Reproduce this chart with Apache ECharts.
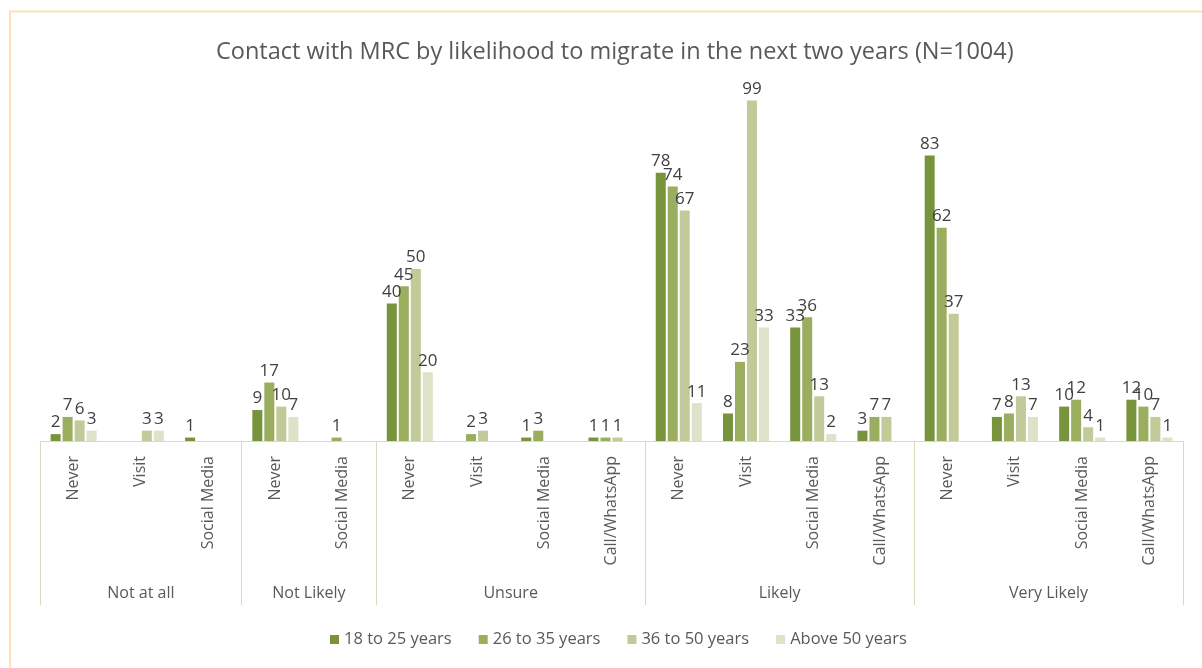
<!DOCTYPE html>
<html>
<head>
<meta charset="utf-8">
<script src="https://cdn.jsdelivr.net/npm/echarts@6/dist/echarts.min.js"></script>
<style>
html,body{margin:0;padding:0;background:#fff;}
#c{width:1202px;height:668px;}
</style>
</head>
<body>
<div id="c"></div>
<script>
const titleText = 'Contact with MRC by likelihood to migrate in the next two years (N=1004)';
const groupNames = ['Not at all', 'Not Likely', 'Unsure', 'Likely', 'Very Likely'];
const groupSubs = [
  ['Never', 'Visit', 'Social Media'],
  ['Never', 'Social Media'],
  ['Never', 'Visit', 'Social Media', 'Call/WhatsApp'],
  ['Never', 'Visit', 'Social Media', 'Call/WhatsApp'],
  ['Never', 'Visit', 'Social Media', 'Call/WhatsApp']
];
const seriesNames = ['18 to 25 years', '26 to 35 years', '36 to 50 years', 'Above 50 years'];
const age18to25 = [2, null, 1,   9, null,   40, null, 1, 1,   78, 8, 33, 3,   83, 7, 10, 12];
const age26to35 = [7, null, null,   17, 1,   45, 2, 3, 1,   74, 23, 36, 7,   62, 8, 12, 10];
const age36to50 = [6, 3, null,   10, null,   50, 3, null, 1,   67, 99, 13, 7,   37, 13, 4, 7];
const ageAbove50 = [3, 3, null,   7, null,   20, null, null, null,   11, 33, 2, null,   null, 7, 1, 1];
const colors = ['#77933C', '#9BAD5E', '#C1CA98', '#DDE2C9'];

const categories = [];
groupSubs.forEach(s => s.forEach(x => categories.push(x)));
const boundaries = [0];
const centers = [];
groupSubs.forEach(s => {
  const start = boundaries[boundaries.length - 1];
  centers.push(start + s.length / 2);
  boundaries.push(start + s.length);
});
const total = categories.length;

const seriesData = [age18to25, age26to35, age36to50, ageAbove50];
const FONT = 'Open Sans';

const chart = echarts.init(document.getElementById('c'));
chart.setOption({
  animation: false,
  textStyle: { fontFamily: FONT },
  title: {
    text: titleText,
    left: 211,
    top: 35,
    textStyle: { fontFamily: FONT, fontSize: 23.5, fontWeight: 'normal', color: '#595959' }
  },
  graphic: [{
    type: 'polyline',
    shape: { points: [[10, 700], [10, 11.5], [1210, 11.5]] },
    style: { stroke: '#FCE2B4', lineWidth: 2, fill: null },
    silent: true
  }],
  legend: {
    bottom: 15,
    left: 325,
    icon: 'rect',
    itemWidth: 9,
    itemHeight: 9,
    itemGap: 27,
    textStyle: { fontFamily: FONT, fontSize: 16.5, color: '#595959' },
    data: seriesNames
  },
  grid: { left: 40, right: 19, top: 97, bottom: 227, containLabel: false },
  xAxis: [{
    type: 'category',
    data: categories,
    position: 'bottom',
    axisLine: { show: true, lineStyle: { color: '#D6DCB8', width: 1 } },
    axisTick: { show: false },
    axisLabel: {
      interval: 0, rotate: 90, margin: 15,
      fontFamily: FONT, fontSize: 16, color: '#595959'
    }
  }, {
    type: 'value',
    min: 0,
    max: total,
    position: 'bottom',
    gridIndex: 0,
    axisLine: { show: false },
    splitLine: { show: false },
    axisTick: {
      show: true, length: 164, inside: false,
      customValues: boundaries,
      lineStyle: { color: '#D6DCB8', width: 1 }
    },
    axisLabel: {
      show: true,
      customValues: centers,
      margin: 144,
      fontFamily: FONT, fontSize: 16, color: '#595959',
      formatter: function (v) {
        const i = centers.findIndex(c => Math.abs(c - v) < 1e-6);
        return i >= 0 ? groupNames[i] : '';
      }
    }
  }],
  yAxis: {
    type: 'value', min: 0, max: 100, show: false,
    splitLine: { show: false }
  },
  series: seriesNames.map((name, i) => ({
    name: name,
    type: 'bar',
    xAxisIndex: 0,
    data: seriesData[i],
    barWidth: 10,
    barGap: '20%',
    itemStyle: { color: colors[i] },
    label: {
      show: true, position: 'top', distance: 3,
      fontFamily: FONT, fontSize: 17, color: '#404040'
    }
  }))
});
</script>
</body>
</html>
